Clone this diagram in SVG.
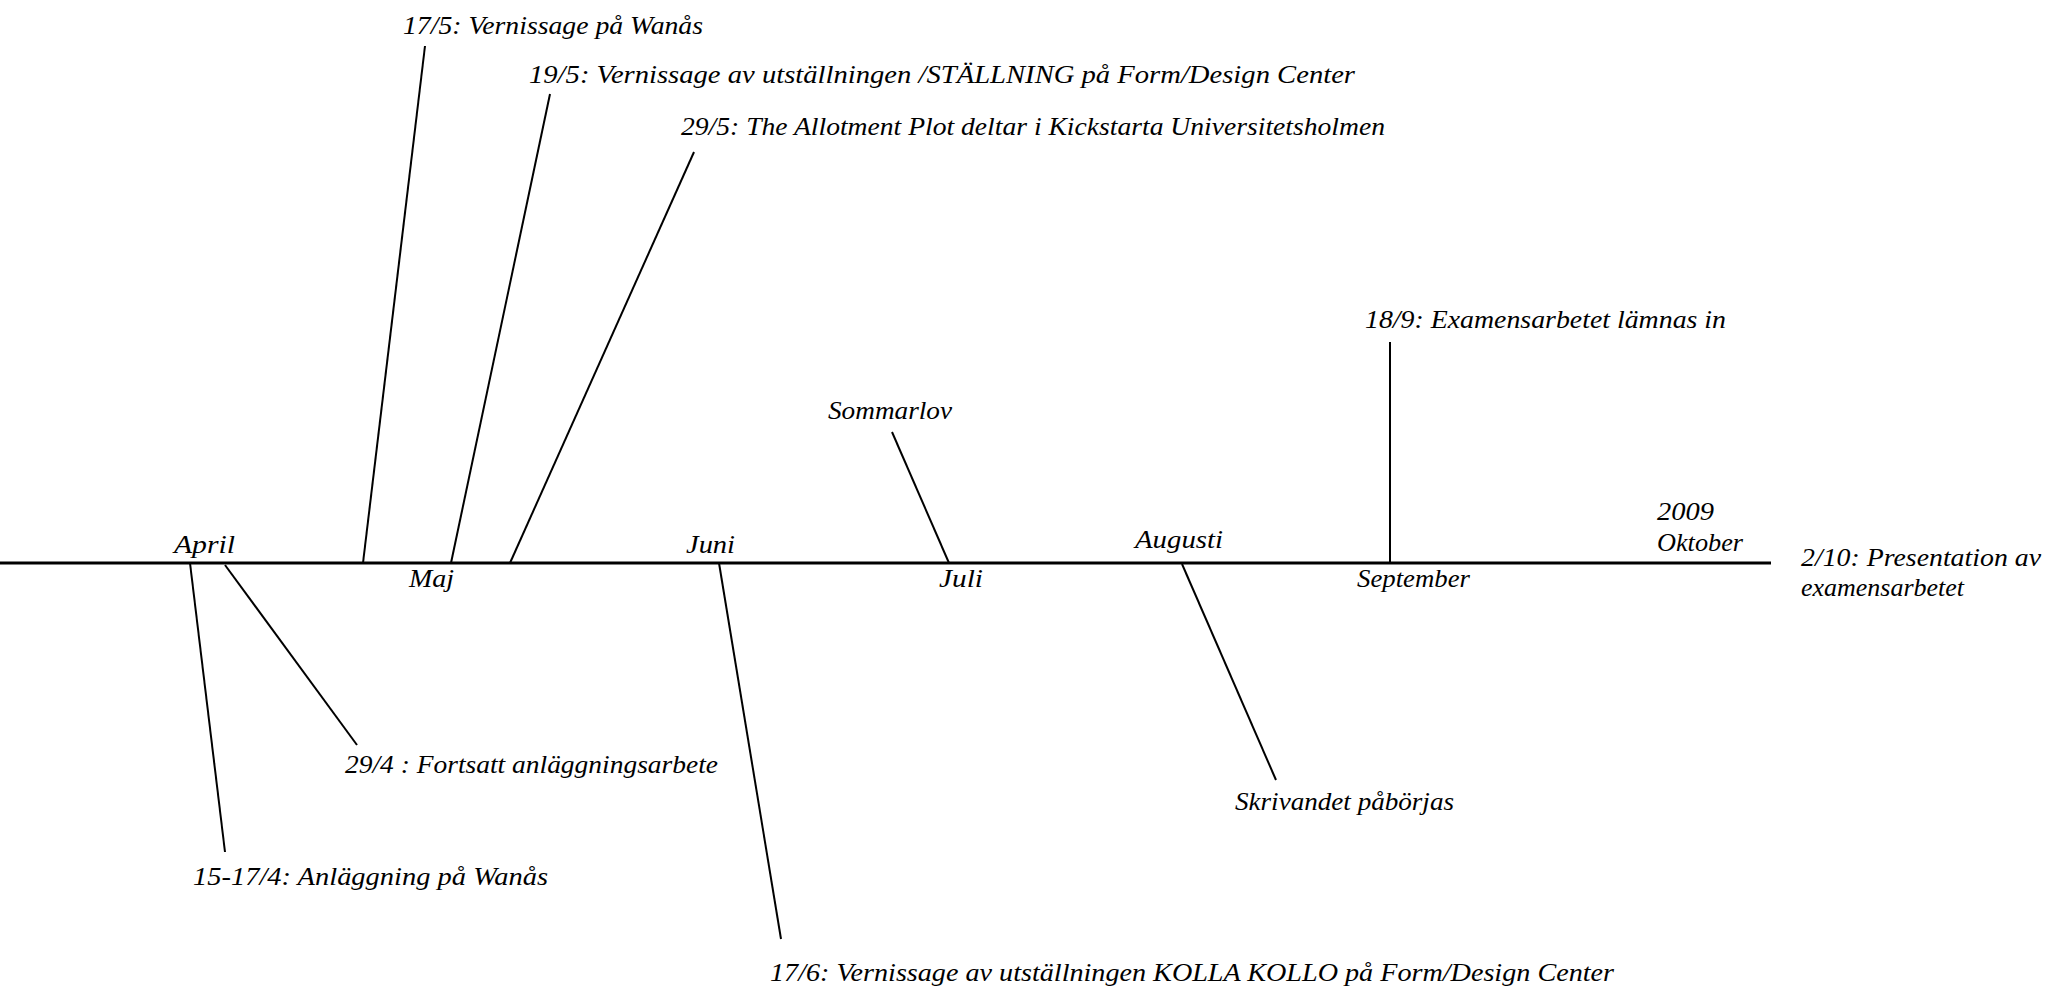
<svg xmlns="http://www.w3.org/2000/svg" width="2048" height="990" viewBox="0 0 2048 990">
  <style>
    text { font-family: "Liberation Serif", "Times New Roman", serif; font-style: italic; font-size: 26px; fill: #000; }
    .conn { stroke: #000; stroke-width: 2; fill: none; stroke-linecap: butt; }
    .axis { stroke: #000; stroke-width: 3.2; fill: none; }
  </style>
  <rect x="0" y="0" width="2048" height="990" fill="#fff"/>

  <g id="timeline">
    <line class="axis" x1="0" y1="563" x2="1771" y2="563"/>
  </g>

  <g id="connectors">
    <line class="conn" x1="425" y1="46" x2="363" y2="563"/>
    <line class="conn" x1="550" y1="94" x2="451" y2="563"/>
    <line class="conn" x1="694" y1="152" x2="510" y2="563"/>
    <line class="conn" x1="190" y1="563" x2="225" y2="852"/>
    <line class="conn" x1="225" y1="565" x2="357" y2="745"/>
    <line class="conn" x1="719" y1="563" x2="781" y2="939"/>
    <line class="conn" x1="892" y1="432" x2="949" y2="563"/>
    <line class="conn" x1="1182" y1="564" x2="1276" y2="780"/>
    <line class="conn" x1="1390" y1="342" x2="1390" y2="563"/>
  </g>

  <g id="month-april"><text x="174" y="553" textLength="61" lengthAdjust="spacingAndGlyphs">April</text></g>
  <g id="month-maj"><text x="409" y="587" textLength="45" lengthAdjust="spacingAndGlyphs">Maj</text></g>
  <g id="month-juni"><text x="686" y="553" textLength="49" lengthAdjust="spacingAndGlyphs">Juni</text></g>
  <g id="month-juli"><text x="939" y="587" textLength="44" lengthAdjust="spacingAndGlyphs">Juli</text></g>
  <g id="month-augusti"><text x="1135" y="548" textLength="88" lengthAdjust="spacingAndGlyphs">Augusti</text></g>
  <g id="month-september"><text x="1357" y="587" textLength="113" lengthAdjust="spacingAndGlyphs">September</text></g>
  <g id="month-oktober">
    <text x="1657" y="520" textLength="57" lengthAdjust="spacingAndGlyphs">2009</text>
    <text x="1657" y="551" textLength="86" lengthAdjust="spacingAndGlyphs">Oktober</text>
  </g>

  <g id="event-17-5"><text x="403" y="34" textLength="300" lengthAdjust="spacingAndGlyphs">17/5: Vernissage på Wanås</text></g>
  <g id="event-19-5"><text x="529" y="83" textLength="826" lengthAdjust="spacingAndGlyphs">19/5: Vernissage av utställningen /STÄLLNING på Form/Design Center</text></g>
  <g id="event-29-5"><text x="681" y="135" textLength="704" lengthAdjust="spacingAndGlyphs">29/5: The Allotment Plot deltar i Kickstarta Universitetsholmen</text></g>
  <g id="event-18-9"><text x="1365" y="328" textLength="361" lengthAdjust="spacingAndGlyphs">18/9: Examensarbetet lämnas in</text></g>
  <g id="event-sommarlov"><text x="828" y="419" textLength="124" lengthAdjust="spacingAndGlyphs">Sommarlov</text></g>
  <g id="event-2-10">
    <text x="1801" y="566" textLength="240" lengthAdjust="spacingAndGlyphs">2/10: Presentation av</text>
    <text x="1801" y="596" textLength="163" lengthAdjust="spacingAndGlyphs">examensarbetet</text>
  </g>
  <g id="event-29-4"><text x="345" y="773" textLength="373" lengthAdjust="spacingAndGlyphs">29/4 : Fortsatt anläggningsarbete</text></g>
  <g id="event-15-17-4"><text x="193" y="885" textLength="355" lengthAdjust="spacingAndGlyphs">15-17/4: Anläggning på Wanås</text></g>
  <g id="event-skrivandet"><text x="1235" y="810" textLength="219" lengthAdjust="spacingAndGlyphs">Skrivandet påbörjas</text></g>
  <g id="event-17-6"><text x="770" y="981" textLength="844" lengthAdjust="spacingAndGlyphs">17/6: Vernissage av utställningen KOLLA KOLLO på Form/Design Center</text></g>
</svg>
